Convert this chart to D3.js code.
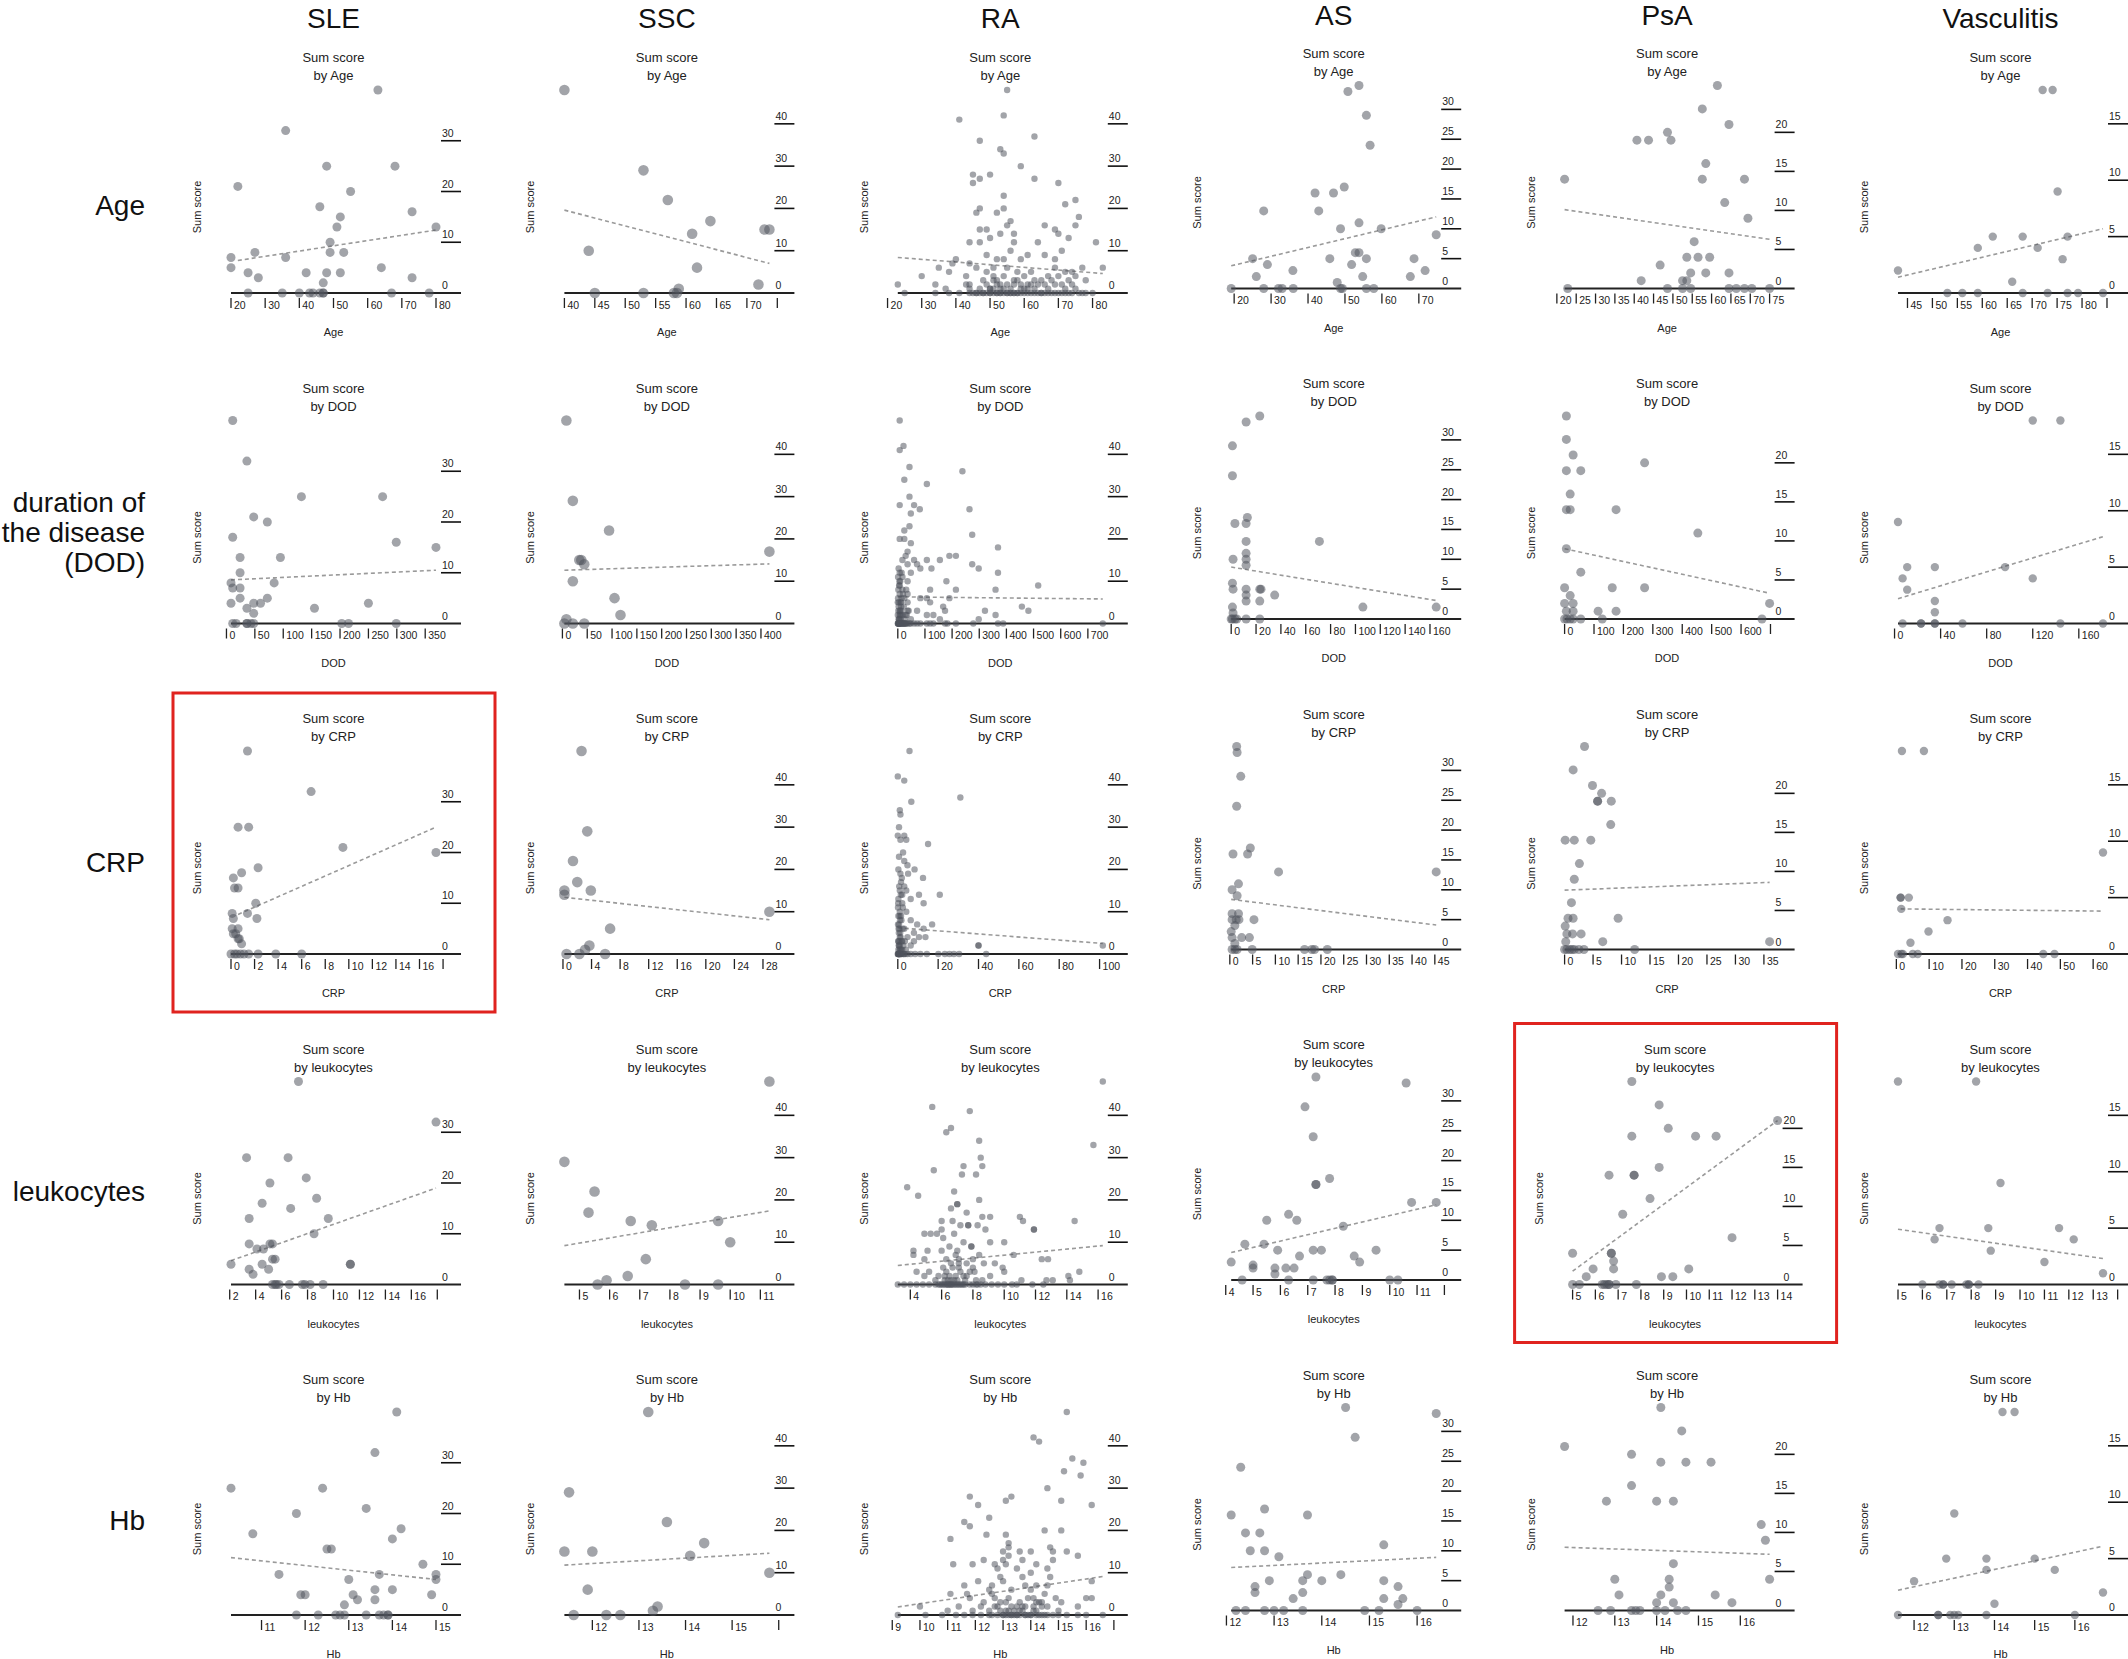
<!DOCTYPE html>
<html><head><meta charset="utf-8">
<script src="https://cdn.jsdelivr.net/npm/d3@7"></script>
<style>body{margin:0;background:#fff} svg{display:block} text{font-family:"Liberation Sans",Arial,Helvetica,sans-serif}</style>
</head><body><svg id="c" width="2128" height="1659"></svg>
<script>
const diseases = ["SLE","SSC","RA","AS","PsA","Vasculitis"];
const variables = ["Age","DOD","CRP","leukocytes","Hb"];
const rowLabels = [["Age"],["duration of","the disease","(DOD)"],["CRP"],["leukocytes"],["Hb"]];

// ---------- Age ----------
const sleAge = [[63,40],[36,32],[22,21],[48,25],[68,25],[55,20],[46,17],[52,15],[73,16],[51,13],[80,13],[49,10],[20,7],[27,8],[36,7],[49,8],[53,8],[20,5],[25,4],[28,3],[42,4],[48,4],[52,4],[64,5],[73,3],[47,2],[25,0],[35,0],[40,0],[43,0],[44,0],[46,0],[47,0],[47,0],[67,0],[78,0]];
const sscAge = [[40,48],[53,29],[57,22],[64,17],[61,14],[72.9,15],[73.7,15],[44,10],[61.8,6],[71.9,2],[58.8,1],[45,0],[53,0],[58,0],[58.5,0]];
const raAge = [[55,48],[54,42],[41,41],[63,37],[47,36],[53,34],[54,33],[59,30],[45,28],[47,27],[50,28],[45,26],[63,27],[70,26],[54,23],[75,22],[72,21],[47,20],[54,20],[52,19],[46,19],[76,18],[56,17],[55,16],[66,16],[75,16],[47,15],[49,15],[53,14],[57,14],[69,15],[70,14],[44,12],[47,12],[50,13],[57,12],[64,12],[73,13],[81,12],[56,10],[71,10],[40,8],[49,9],[52,8],[61,9],[66,9],[69,8],[39,7],[44,7],[54,8],[59,8],[35,6],[46,6],[51,6],[55,6],[69,6],[77,6],[83,6],[38,5],[49,5],[58,5],[62,5],[72,5],[74,5],[30,4],[43,4],[51,4],[54,4],[60,4],[67,4],[70,4],[75,4],[51,3],[52,3],[57,3],[63,3],[65,3],[73,3],[78,3],[34,2],[43,2],[49,2],[53,2],[59,2],[64,2],[69,2],[74,2],[23,2],[37,1],[44,1],[50,1],[56,1],[61,1],[67,1],[72,1],[25,0],[34,0],[38,0],[41,0],[44,0],[45,0],[46,0],[47,0],[48,0],[50,0],[51,0],[52,0],[53,0],[54,0],[55,0],[56,0],[57,0],[58,0],[59,0],[60,0],[61,0],[62,0],[63,0],[64,0],[65,0],[66,0],[68,0],[70,0],[72,0],[74,0],[76,0],[78,0],[80,0],[52,0],[55,0],[58,0],[50,1],[53,1],[57,2],[48,3],[60,1],[62,2],[46,0],[49,0],[51,1],[54,1],[56,0],[59,1],[63,1],[65,0],[67,0],[69,0],[71,0],[73,0],[75,1],[77,0],[47,1],[52,2],[55,2],[58,3],[61,2],[66,2],[68,3],[71,2],[44,2],[48,0],[50,0],[53,0],[57,0]];
const asAge = [[53.8,34],[50.8,33],[55.8,29],[56.8,24],[49.8,17],[41.9,16],[46.9,16],[28,13],[42.9,13],[53.8,11],[48.8,10],[59.8,10],[74.7,9],[25,5],[45.9,5],[52.8,6],[53.8,6],[55.8,5],[68.7,5],[29,4],[51.8,4],[35.9,3],[71.7,3],[26,2],[54.8,2],[67.7,2],[47.9,1],[19.2,0],[28,0],[32,0],[33,0],[36,0],[48.8,0],[49.3,0],[55.8,0],[57.8,0]];
const psaAge = [[61.5,26],[57.6,23],[64.5,21],[48.6,20],[40.7,19],[43.7,19],[49.5,19],[58.5,16],[22,14],[57.6,14],[68.5,14],[63.4,11],[69.4,9],[55.5,6],[53.6,4],[56.5,4],[59.5,4],[46.7,3],[41.8,1],[54.6,2],[58.5,2],[64.5,2],[52.5,1],[53.6,1],[22.8,0],[48.6,0],[52.5,0],[54.6,0],[64.5,0],[66.4,0],[68.5,0],[70.4,0],[75,0]];
const vascAge = [[72.1,18],[74.1,18],[75.1,9],[62.1,5],[68.1,5],[77.1,5],[59.1,4],[71.1,4],[76.1,3],[66,1],[43.1,2],[53,0],[56,0],[59.1,0],[68.1,0],[73.1,0],[77.1,0],[79.2,0],[84.2,0]];

// ---------- DOD ----------
const sleDod = [[11,40],[36,32],[132,25],[275,25],[48,21],[72,20],[11,17],[299,16],[369,15],[24,13],[95,13],[24,10],[84,8],[8,8],[11,7],[24,7],[24,5],[72,5],[8,4],[48,4],[60,4],[250,4],[36,3],[155,3],[48,2],[11,0],[17,0],[36,0],[36,0],[43,0],[48,0],[203,0],[215,0],[299,0]];
const sscDod = [[8,48],[21,29],[94,22],[34,15],[44,14],[38,15],[417,17],[21,10],[105,6],[117,2],[8,1],[4,0],[21,0],[44,0]];
const raDod = [[7,48],[21,42],[7,41],[43,37],[24,34],[238,36],[107,33],[43,30],[7,28],[60,28],[81,27],[48,26],[264,27],[43,23],[24,22],[274,21],[7,20],[24,20],[48,19],[36,17],[29,16],[17,15],[60,15],[107,15],[155,15],[190,16],[214,16],[369,18],[36,14],[71,14],[124,13],[83,13],[7,12],[48,12],[274,14],[298,13],[369,12],[36,10],[179,10],[7,9],[17,8],[119,8],[214,8],[360,8],[517,9],[7,7],[36,7],[83,6],[107,6],[190,6],[12,5],[36,5],[119,5],[167,4],[174,3],[457,4],[481,3],[7,3],[36,3],[71,3],[107,2],[131,2],[321,3],[360,2],[12,2],[48,1],[298,1],[155,1],[12,4],[24,6],[17,11],[31,8],[29,2],[40,3],[0,0],[7,0],[12,0],[17,0],[24,0],[31,0],[36,0],[43,0],[48,0],[60,0],[71,0],[83,0],[107,0],[119,0],[131,0],[174,0],[183,0],[214,0],[278,0],[369,0],[388,0],[755,0],[5,1],[7,2],[9,3],[10,5],[14,6],[5,9],[9,10],[14,12],[19,7],[22,4],[26,1],[33,2],[4,0],[10,0],[15,0],[20,0],[28,0],[3,4],[3,13],[0,5],[0,2],[1,0],[2,0],[3,0],[5,0],[6,1],[8,2],[2,3],[4,5],[1,6],[2,8],[6,10],[1,11],[3,1],[11,1],[13,3],[18,2],[21,0],[26,0],[2,0],[8,0]];
const asDod = [[23,34],[12,33],[1,29],[1,24],[13,17],[3,16],[12,16],[12,13],[71,13],[12,11],[12,10],[12,9],[1.5,10],[1,6],[1.5,5],[12,5],[23,5],[24,5],[12,4],[35,4],[12,3],[23,3],[1,2],[1.5,1],[106,2],[165,2],[0,0],[1,0],[3,0],[4.5,0],[12,0],[23,0]];
const psaDod = [[6,26],[6,23],[29,21],[6,19],[55,19],[272,20],[19,16],[6,14],[19,14],[175,14],[453,11],[6,9],[55,6],[0,4],[19,3],[162,4],[272,4],[0,2],[29,2],[29,1],[114,1],[175,1],[697,2],[6,1],[0,0],[8,0],[19,0],[29,0],[55,0],[128,0],[671,0]];
const vascDod = [[120,18],[144,18],[3,9],[11,5],[35,5],[7,4],[96,5],[120,4],[11,3],[35,2],[35,1],[7,0],[23,0],[23,0],[35,0],[35,0],[59,0],[144,0],[181,0]];

// ---------- CRP ----------
const sleCrp = [[1.4,40],[6.8,32],[0.6,25],[1.5,25],[9.5,21],[17.4,20],[2.3,17],[0.9,16],[0.2,15],[0.3,13],[0.6,13],[2.1,10],[0.1,8],[1.4,8],[0.2,7],[2.2,7],[0.1,5],[0.6,5],[0.2,4],[0.4,4],[0.6,3],[0.7,3],[0.9,2],[0,0],[0.3,0],[0.5,0],[0.8,0],[1.1,0],[1.5,0],[2.3,0],[3.8,0],[6,0]];
const sscCrp = [[2.6,48],[3.4,29],[1.4,22],[2,17],[0.2,15],[0.2,14],[3.9,15],[6.6,6],[28.9,10],[3.7,2],[3.1,1],[0.5,0],[2.3,0],[5.9,0]];
const raCrp = [[5.8,48],[0,42],[3.2,41],[31,37],[6.7,36],[1,34],[1.3,33],[0.6,30],[0,28],[3.2,28],[4.2,27],[1.3,27],[15,26],[0.6,23],[3.2,22],[4.8,21],[8.3,20],[1.3,19],[5.1,19],[12.5,18],[1.6,17],[3.2,16],[1,15],[2.2,14],[4.2,15],[6.4,13],[10.5,14],[20.8,14],[0.3,13],[2.2,12],[12.8,12],[1,10],[4.2,10],[1.6,9],[6.4,8],[0.6,7],[9.6,7],[17,7],[3.2,6],[12.8,6],[8,5],[1,4],[4.8,4],[10.5,4],[13.7,4],[2.2,3],[8,3],[6.4,2],[1,2],[40,2],[40,2],[101.6,2],[0,0],[0.6,0],[1.3,0],[1.9,0],[2.9,0],[3.8,0],[4.8,0],[6.4,0],[8.6,0],[11.2,0],[14.4,0],[20.1,0],[23.3,0],[25.6,0],[27.8,0],[30.4,0],[43.8,0],[0.3,1],[0.5,2],[0.8,3],[1.2,5],[0.4,6],[1.8,8],[0.9,9],[2.5,11],[0.2,12],[1.5,14],[0.7,16],[2,18],[0.3,20],[2.6,24],[0.5,5],[1.7,1],[2.8,2],[3.5,3],[0.1,7],[2.4,6],[0.2,0],[0.9,1],[1.6,0],[0.4,3],[0.1,0],[0.4,0],[0.7,0],[1,0],[1.2,1],[0.6,2],[0.2,3],[1.4,4],[0.8,6],[1.1,8],[0.3,9],[1.9,3],[2.2,1],[0.1,11],[0.5,0],[0.9,0],[3,0],[4,1]];
const asCrp = [[1.5,34],[1.6,33],[2.4,29],[1.5,24],[4.5,17],[0.7,16],[3.9,16],[10.7,13],[45.3,13],[1.9,11],[0.5,10],[1.6,9],[0.5,6],[1.9,6],[0.5,5],[1.4,5],[2,5],[5.3,5],[1.1,4],[0.3,3],[2.6,2],[4.3,2],[0.5,2],[1.1,1],[0.5,0],[1.1,0],[1.6,0],[4.9,0],[16.4,0],[18,0],[18.6,0],[21.4,0]];
const psaCrp = [[3.5,26],[1.5,23],[4.9,21],[6.5,20],[5.8,19],[8.2,19],[5.8,19],[8.1,16],[0.1,14],[1.7,14],[4.6,14],[2.6,11],[1.7,9],[1.2,6],[0.6,4],[1.5,4],[9.4,4],[0.1,3],[0.4,2],[1.4,2],[2.9,2],[0.2,1],[6.7,1],[36,1],[0,0],[0.4,0],[0.9,0],[1.3,0],[1.7,0],[2.5,0],[3.4,0],[12.3,0]];
const vascCrp = [[1.7,18],[8.4,18],[63,9],[1.3,5],[3.8,5],[1.3,5],[1.5,4],[15.6,3],[9.8,2],[4.3,1],[0.5,0],[1.5,0],[2,0],[5,0],[6.5,0],[44.8,0],[48.2,0]];

// ---------- leukocytes ----------
const sleLeuk = [[7.3,40],[17.9,32],[3.3,25],[6.5,25],[7.9,21],[5.1,20],[8.7,17],[4.5,16],[6.7,15],[3.5,13],[9.6,13],[8.5,10],[3.5,8],[5.1,8],[5.3,8],[4.1,7],[4.6,7],[5.3,5],[5.5,5],[2.1,4],[4.5,4],[11.3,4],[11.3,4],[3.5,3],[5,3],[3.8,2],[5.3,0],[5.5,0],[5.6,0],[5.8,0],[6.6,0],[7.6,0],[7.8,0],[8.2,0],[9.2,0]];
const sscLeuk = [[11.3,48],[4.5,29],[5.5,22],[5.3,17],[6.7,15],[7.4,14],[9.6,15],[10,10],[7.2,6],[6.6,2],[5.9,1],[5.6,0],[8.5,0],[9.6,0]];
const raLeuk = [[16.3,48],[5.4,42],[7.8,41],[6.6,37],[6.3,36],[8.4,34],[8.5,30],[15.7,33],[7.4,28],[8.6,28],[5.5,27],[7.3,26],[8.2,26],[3.8,23],[4.5,21],[6.8,22],[7,19],[7,19],[6.6,18],[8.4,20],[7.6,17],[8.6,16],[9.1,16],[11,16],[11.2,15],[6,15],[6.7,15],[7.7,14],[7.7,14],[14.5,15],[8.3,14],[7.2,14],[4.9,12],[5.3,12],[5.7,12],[6,13],[6.8,12],[8.8,13],[11.9,13],[11.9,13],[6.5,9],[7.9,9],[7.9,9],[9.1,10],[10,10],[4.2,8],[5.1,8],[6,8],[7,8],[8.4,7],[10.6,7],[4.2,7],[4.9,6],[6.3,6],[7.1,6],[8,6],[12.4,6],[12.8,6],[7.1,5],[7.6,5],[8.7,5],[9.4,5],[6.1,4],[6.7,4],[8,4],[9.9,4],[4.4,3],[5.2,3],[7.2,3],[8.1,3],[10,3],[14.8,3],[4.9,2],[6.2,2],[7.4,2],[9.1,2],[14.1,2],[5.6,1],[6.6,1],[8.2,1],[11.1,1],[12.7,1],[13.1,1],[14.2,1],[3.2,0],[3.6,0],[4,0],[4.4,0],[4.8,0],[5.2,0],[5.6,0],[5.9,0],[6.1,0],[6.3,0],[6.4,0],[6.6,0],[6.7,0],[6.9,0],[7.1,0],[7.3,0],[7.5,0],[7.8,0],[8,0],[8.3,0],[8.5,0],[8.8,0],[9.2,0],[9.6,0],[10,0],[10.5,0],[10.8,0],[11.8,0],[12.5,0],[6.2,0],[6.5,0],[6.8,0],[7,0],[6.4,1],[6.9,2],[6.3,3],[7.5,1],[5.8,2],[6.6,5],[6.9,7],[7.4,10],[6.1,11],[6,0],[6.2,1],[6.6,0],[7.2,0],[6.8,1],[7.4,0],[7.6,2],[8.2,0],[6.4,0],[5.8,0],[7,1],[8.6,1],[7.8,3],[6.5,2],[7.1,4]];
const asLeuk = [[7.3,34],[10.6,33],[6.9,29],[7.2,24],[7.8,17],[7.3,16],[7.3,16],[10.8,13],[11.7,13],[6.3,11],[5.5,10],[6.6,10],[8.3,9],[4.7,6],[5.4,6],[5.9,5],[7.2,5],[7.5,5],[9.5,5],[4.2,3],[6.7,4],[8.7,4],[8.9,3],[5,2],[5,2.5],[5.8,2],[6.2,2],[6.5,2],[5.8,1],[4.6,0],[6.3,0],[7.2,0],[7.7,0],[7.8,0],[7.9,0],[7.9,0],[10,0],[10.3,0]];
const psaLeuk = [[7.6,26],[8.8,23],[9.2,20],[7.6,19],[10.4,19],[11.3,19],[14,21],[8.8,15],[6.6,14],[7.7,14],[7.7,14],[8.4,11],[7.2,9],[12,6],[5,4],[6.7,4],[6.7,4],[6.8,3],[5.9,2],[6.8,2],[10.1,2],[5.6,1],[8.9,1],[9.4,1],[5,0],[5.3,0],[6.3,0],[6.4,0],[6.5,0],[6.6,0],[6.6,0],[6.9,0],[7.8,0]];
const vascLeuk = [[5,18],[8.2,18],[9.2,9],[6.7,5],[8.7,5],[11.6,5],[6.5,4],[12.2,4],[8.8,3],[11,2],[13.4,1],[6,0],[6.7,0],[6.85,0],[6.85,0],[7.2,0],[7.8,0],[7.9,0],[7.9,0],[8.3,0]];

// ---------- Hb ----------
const sleHb = [[14.1,40],[13.6,32],[10.3,25],[12.4,25],[13.4,21],[11.8,20],[14.2,17],[10.8,16],[14,15],[12.5,13],[12.6,13],[14.7,10],[13.7,8],[11.4,8],[15,8],[15,7],[13,7],[14,5],[13.6,5],[11.9,4],[12,4],[13.1,4],[14.9,4],[13.2,3],[13.6,3],[12.9,2],[11.8,0],[12.3,0],[12.7,0],[12.8,0],[12.9,0],[13.4,0],[13.7,0],[13.8,0],[13.9,0],[13.9,0]];
const sscHb = [[13.2,48],[11.5,29],[13.6,22],[14.4,17],[11.4,15],[12,15],[14.1,14],[15.8,10],[11.9,6],[13.4,2],[13.3,1],[11.6,0],[12.3,0],[12.6,0]];
const raHb = [[15.3,48],[14.1,42],[14.3,41],[15.5,37],[15.9,36],[15.2,34],[15.8,33],[14.6,30],[11.8,28],[13.3,28],[13.1,27],[15.1,27],[12.1,26],[16.2,26],[12.5,23],[11.6,22],[11.8,21],[14.5,20],[15.1,20],[12.4,19],[13.1,19],[11.1,18],[13.2,17],[13.2,16],[14.7,16],[14,15],[14.8,15],[15.3,15],[15.7,14],[13,15],[13.2,14],[13.6,15],[11.2,12],[11.9,12],[12.3,13],[12.7,12],[13,13],[13.7,13],[14.2,12],[14.8,13],[12.8,11],[13.1,12],[13.5,11],[14,10],[14.6,11],[12.9,9],[13.7,9],[14.7,9],[12.1,8],[13,8],[16.2,8],[11.6,7],[12.6,7],[13.8,7],[14.2,7],[14.6,7],[11.1,5],[11.7,5],[12.5,6],[13.3,6],[14,6],[14.5,5],[11.8,4],[12.7,4],[13.2,4],[14.1,4],[14.9,4],[16,4],[16.2,4],[10,2],[11.4,2],[12.2,2],[12.8,2],[13.5,2],[14.1,2],[14.4,2],[15.7,2],[11,1],[11.9,1],[12.5,1],[13.1,1],[13.7,1],[14.2,1],[15,1],[13.1,3],[13.6,3],[14.2,3],[12.3,3],[9.2,0],[10.2,0],[10.8,0],[11.3,0],[11.6,0],[11.9,0],[12.2,0],[12.5,0],[12.6,0],[12.8,0],[13,0],[13.1,0],[13.2,0],[13.3,0],[13.4,0],[13.5,0],[13.6,0],[13.8,0],[13.9,0],[14,0],[14.2,0],[14.3,0],[14.4,0],[14.6,0],[14.8,0],[15,0],[15.3,0],[15.7,0],[16,0],[16.6,0],[13.4,1],[13.8,2],[12.9,3],[13.9,4],[12.6,5],[14.3,3],[13.3,2],[13,0],[13.2,1],[13.5,0],[13.7,2],[14,0],[14.1,1],[14.4,3],[12.9,1],[13.3,0],[13.6,1],[14.5,0],[12.7,2],[13.8,0],[14.6,2],[15.1,3]];
const asHb = [[14.5,34],[16.4,33],[14.7,29],[12.3,24],[12.8,17],[12.1,16],[13.7,16],[12.4,13],[12.7,13],[15.3,11],[12.5,10],[12.8,10],[13.1,9],[13.7,6],[14.4,6],[12.9,5],[13.6,5],[14,5],[15.3,5],[12.6,4],[15.6,4],[12.6,3],[13.6,3],[13.4,2],[15.3,2],[15.7,2],[15.6,1],[12.2,0],[12.4,0],[12.8,0],[13,0],[13.2,0],[13.6,0],[14.9,0],[15.2,0],[16,0]];
const psaHb = [[14.1,26],[14.6,23],[11.8,21],[13.4,20],[14.1,19],[14.7,19],[15.3,19],[13.4,16],[12.8,14],[14,14],[14.4,14],[16.5,11],[16.6,9],[14.4,6],[13,4],[14.3,4],[16.7,4],[14.3,3],[13.1,2],[14.1,2],[15.4,2],[14,1],[14.4,1],[15.8,1],[12.6,0],[12.9,0],[13.4,0],[13.5,0],[13.6,0],[14,0],[14.2,0],[14.5,0],[14.7,0]];
const vascHb = [[14.2,18],[14.5,18],[13,9],[12.8,5],[13.8,5],[15,5],[13.8,4],[15.5,4],[12,3],[14,1],[16.7,2],[11.6,0],[12.6,0],[12.6,0],[12.9,0],[13,0],[13.1,0],[13.8,0],[16,0]];

// ---------- regression lines: [x start, y start, x end, y end] ----------
const trendAge  = [[22,6.4,80,12.4],[40,19.6,73.7,7],[23,8.4,83,4.6],[19.2,3.8,74.7,12],[22,10.1,75,6.3],[43.1,1.4,84.2,5.7]];
const trendDod  = [[8,8.6,369,10.5],[4,12.6,417,14.1],[0,6.3,755,5.8],[0,8.7,165,3.1],[0,9,697,3.3],[3,2.2,181,7.7]];
const trendCrp  = [[0.6,7.8,17.4,25],[0.2,13.4,28.9,8.1],[0,6.2,101.6,2.5],[0.3,8.4,45.3,4.1],[0,7.6,36,8.6],[1.3,4,63,3.8]];
const trendLeuk = [[2.1,4.7,17.9,19],[4.5,9.2,11.3,17.4],[3.2,4.5,16.3,9.2],[4.2,4.6,11.7,12.6],[5,1.7,14,21],[5,4.9,13.4,2.3]];
const trendHb   = [[10.3,11.3,15,7],[11.4,11.8,15.8,14.6],[9.2,1.9,16.6,9.1],[12.1,7.2,16.4,8.9],[11.8,8.1,16.7,7.2],[11.6,2.2,16.7,6.1]];

// ---------- tick values ----------
const xTicksAge  = [[20,30,40,50,60,70,80],[40,45,50,55,60,65,70,75],[20,30,40,50,60,70,80],[20,30,40,50,60,70],[20,25,30,35,40,45,50,55,60,65,70,75],[45,50,55,60,65,70,75,80,85]];
const xTicksDod  = [[0,50,100,150,200,250,300,350],[0,50,100,150,200,250,300,350,400],[0,100,200,300,400,500,600,700],[0,20,40,60,80,100,120,140,160],[0,100,200,300,400,500,600,700],[0,40,80,120,160]];
const xTicksCrp  = [[0,2,4,6,8,10,12,14,16,18],[0,4,8,12,16,20,24,28],[0,20,40,60,80,100],[0,5,10,15,20,25,30,35,40,45],[0,5,10,15,20,25,30,35],[0,10,20,30,40,50,60]];
const xTicksLeuk = [[2,4,6,8,10,12,14,16,18],[5,6,7,8,9,10,11],[4,6,8,10,12,14,16],[4,5,6,7,8,9,10,11,12],[5,6,7,8,9,10,11,12,13,14],[5,6,7,8,9,10,11,12,13,14]];
const xTicksHb   = [[11,12,13,14,15],[12,13,14,15,16],[9,10,11,12,13,14,15,16,17],[12,13,14,15,16],[12,13,14,15,16],[12,13,14,15,16]];
const yTicks = [[0,10,20,30],[0,10,20,30,40],[0,10,20,30,40],[0,5,10,15,20,25,30],[0,5,10,15,20],[0,5,10,15]];

const panels = [
  [sleAge, sscAge, raAge, asAge, psaAge, vascAge],
  [sleDod, sscDod, raDod, asDod, psaDod, vascDod],
  [sleCrp, sscCrp, raCrp, asCrp, psaCrp, vascCrp],
  [sleLeuk, sscLeuk, raLeuk, asLeuk, psaLeuk, vascLeuk],
  [sleHb, sscHb, raHb, asHb, psaHb, vascHb]
];
const trends = [trendAge, trendDod, trendCrp, trendLeuk, trendHb];
const xTicks = [xTicksAge, xTicksDod, xTicksCrp, xTicksLeuk, xTicksHb];
const highlighted = [[2,0],[3,4]];
const pointRadius = [4.5,5.3,3.2,4.5,4.5,4.2];

// ---------- drawing ----------
const svg = d3.select("#c");
svg.append("rect").attr("width",2128).attr("height",1659).attr("fill","#fff");
const W = 205, H = 203;
const colX = c => 231 + 333.4*c;
const rowY = r => 57 + 330.5*r;
function shift(r,c){
  if (r===3 && c===4) return [8,0];
  if (c===3 || c===4) return [0,-4.5];
  return [0,0];
}

diseases.forEach((d,c)=>{
  svg.append("text").attr("x", colX(c)+W/2).attr("y", 28 + ((c===3||c===4)?-3:0))
    .attr("text-anchor","middle").attr("font-size",28).attr("fill","#111").text(d);
});
rowLabels.forEach((lines,r)=>{
  const py = rowY(r);
  const n = lines.length;
  lines.forEach((t,i)=>{
    svg.append("text").attr("x",145).attr("y", py + 158 - r*1.8 + (i-(n-1)/2)*30 - (n>1?2:0))
      .attr("text-anchor","end").attr("font-size",28).attr("fill","#111").text(t);
  });
});

for (let r=0;r<5;r++){
  for (let c=0;c<6;c++){
    const [dx,dy] = shift(r,c);
    const x0 = colX(c)+dx, py = rowY(r)+dy;
    const base = py + 236, top = base - H;
    const data = panels[r][c];
    const xe = d3.extent(data, d=>d[0]);
    const x = d3.scaleLinear().domain(xe).range([x0, x0+W]);
    const y = d3.scaleLinear().domain([0, d3.max(data, d=>d[1])]).range([base, top]);
    const g = svg.append("g");
    const cx = x0 + W/2;

    g.append("text").attr("x",cx).attr("y",py+5).attr("text-anchor","middle").attr("font-size",13).attr("fill","#222").text("Sum score");
    g.append("text").attr("x",cx).attr("y",py+23).attr("text-anchor","middle").attr("font-size",13).attr("fill","#222").text("by "+variables[r]);

    g.append("text").attr("transform",`translate(${x0-30},${py+150}) rotate(-90)`)
      .attr("text-anchor","middle").attr("font-size",11).attr("fill","#222").text("Sum score");

    g.append("line").attr("x1",x0).attr("x2",x0+W+25).attr("y1",y(0)).attr("y2",y(0))
      .attr("stroke","#222").attr("stroke-width",2);

    yTicks[c].forEach(v=>{
      if (v !== 0)
        g.append("line").attr("x1",x0+W+5).attr("x2",x0+W+25).attr("y1",y(v)).attr("y2",y(v))
          .attr("stroke","#111").attr("stroke-width",1.6);
      g.append("text").attr("x",x0+W+6).attr("y",y(v)-4).attr("font-size",10.5).attr("fill","#222").text(v);
    });

    const span = xe[1]-xe[0];
    xTicks[r][c].forEach(v=>{
      const xv = x(v);
      g.append("line").attr("x1",xv).attr("x2",xv).attr("y1",base+5).attr("y2",base+15)
        .attr("stroke","#222").attr("stroke-width",1.3);
      if (v <= xe[1] + span*0.002)
        g.append("text").attr("x",xv+3).attr("y",base+15.5).attr("font-size",10.5).attr("fill","#222").text(v);
    });
    g.append("text").attr("x",cx).attr("y",base+43).attr("text-anchor","middle").attr("font-size",11).attr("fill","#222").text(variables[r]);

    const t = trends[r][c];
    g.append("line").attr("x1",x(t[0])).attr("y1",y(t[1])).attr("x2",x(t[2])).attr("y2",y(t[3]))
      .attr("stroke","#9a9a9a").attr("stroke-width",1.6).attr("stroke-dasharray","4,3");

    g.selectAll("circle").data(data).join("circle")
      .attr("cx",d=>x(d[0])).attr("cy",d=>y(d[1])).attr("r",pointRadius[c])
      .attr("fill","#50535d").attr("fill-opacity",0.53);

    if (highlighted.some(h=>h[0]===r && h[1]===c)){
      svg.append("rect").attr("x",x0-58).attr("y",py-25).attr("width",322).attr("height",319)
        .attr("fill","none").attr("stroke","#e0231f").attr("stroke-width",3);
    }
  }
}
</script></body></html>
